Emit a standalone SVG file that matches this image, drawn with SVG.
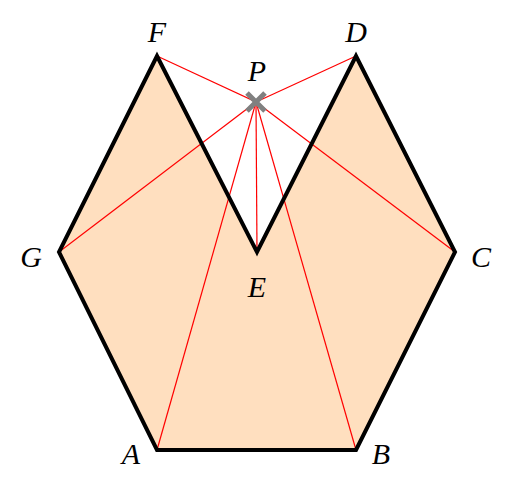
<svg xmlns="http://www.w3.org/2000/svg" width="512" height="481" viewBox="0 0 512 481">
<style>
.lbl{font-family:"Liberation Serif","DejaVu Serif",serif;font-style:italic;font-size:30px;fill:#000;text-anchor:middle}
.red{stroke:#ff0000;stroke-width:1.2;fill:none}
</style>
<rect width="512" height="481" fill="#fff"/>
<g id="hexagon">
<polygon points="157,450 356,450 455,252 356,56 257,252 157,56 59,252" fill="#FFDFBF" stroke="none"/>
</g>
<g id="connectors">
<line class="red" x1="256" y1="102" x2="157" y2="56"/>
<line class="red" x1="256" y1="102" x2="356" y2="56"/>
<line class="red" x1="256" y1="102" x2="59" y2="252"/>
<line class="red" x1="256" y1="102" x2="455" y2="252"/>
<line class="red" x1="256" y1="102" x2="257" y2="252"/>
<line class="red" x1="256" y1="102" x2="157" y2="450"/>
<line class="red" x1="256" y1="102" x2="356" y2="450"/>
</g>
<g id="outline">
<polygon points="157,450 356,450 455,252 356,56 257,252 157,56 59,252" fill="none" stroke="#000" stroke-width="4" stroke-linejoin="miter"/>
</g>
<g id="P">
<path d="M247,93 L265,111 M265,93 L247,111" stroke="#808080" stroke-width="5"/>
<text class="lbl" x="257" y="81">P</text>
</g>
<g id="F"><text class="lbl" x="157" y="42">F</text></g>
<g id="D"><text class="lbl" x="356" y="42">D</text></g>
<g id="G"><text class="lbl" x="31" y="267">G</text></g>
<g id="C"><text class="lbl" x="481" y="267">C</text></g>
<g id="E"><text class="lbl" x="257" y="297">E</text></g>
<g id="A"><text class="lbl" x="131" y="464">A</text></g>
<g id="B"><text class="lbl" x="381" y="464">B</text></g>
</svg>
